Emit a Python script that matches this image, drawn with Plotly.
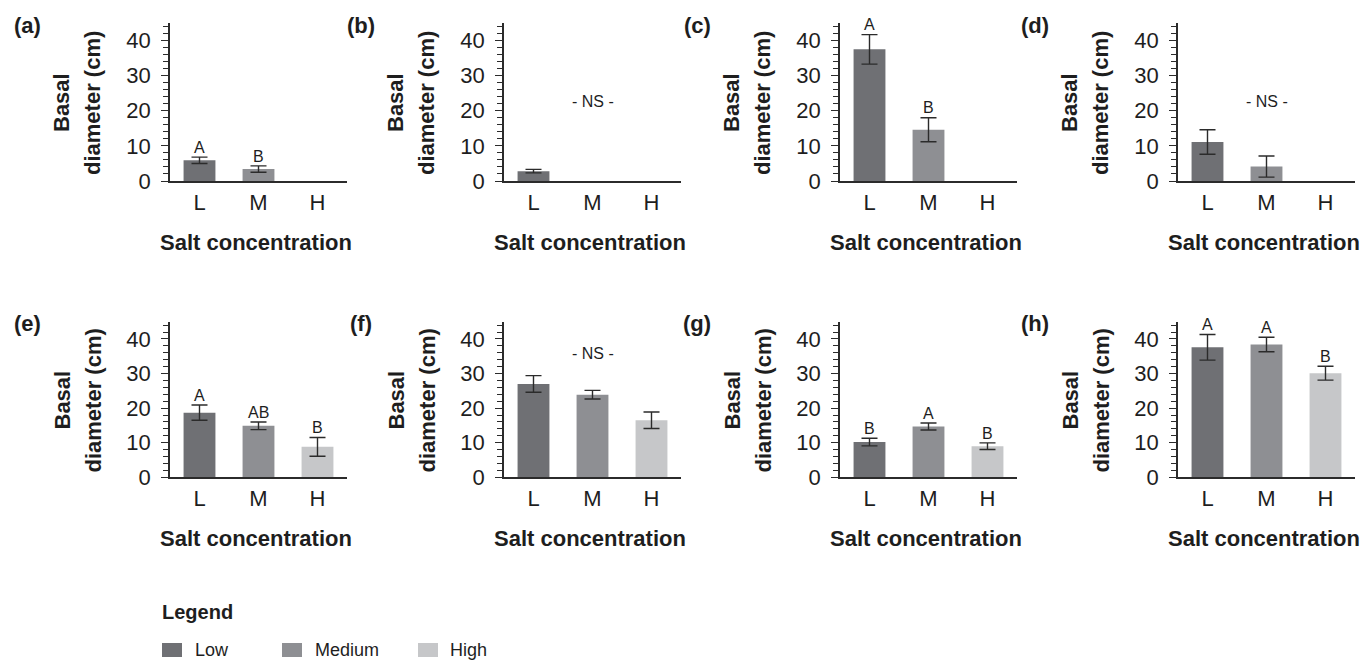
import plotly.graph_objects as go

W, H = 1366, 661

# ---------------- data ----------------
categories = ["L", "M", "H"]
level_names = ["Low", "Medium", "High"]
panel_labels = ["(a)", "(b)", "(c)", "(d)", "(e)", "(f)", "(g)", "(h)"]

means_a = [5.9, 3.4, None]
err_a = [0.9, 0.9, None]
letters_a = ["A", "B", None]

means_b = [2.8, None, None]
err_b = [0.5, None, None]
letters_b = [None, None, None]

means_c = [37.5, 14.6, None]
err_c = [4.2, 3.4, None]
letters_c = ["A", "B", None]

means_d = [11.1, 4.1, None]
err_d = [3.5, 3.0, None]
letters_d = [None, None, None]

means_e = [18.7, 14.9, 8.8]
err_e = [2.2, 1.1, 2.7]
letters_e = ["A", "AB", "B"]

means_f = [27.0, 23.9, 16.5]
err_f = [2.4, 1.25, 2.4]
letters_f = [None, None, None]

means_g = [10.2, 14.7, 9.0]
err_g = [1.1, 1.0, 0.95]
letters_g = ["B", "A", "B"]

means_h = [37.6, 38.4, 30.1]
err_h = [3.7, 2.1, 2.0]
letters_h = ["A", "A", "B"]

ns_panels = {1: 22.6, 3: 22.6, 5: 35.9}   # panels with "- NS -" and its height

all_means = [means_a, means_b, means_c, means_d, means_e, means_f, means_g, means_h]
all_errs = [err_a, err_b, err_c, err_d, err_e, err_f, err_g, err_h]
all_letters = [letters_a, letters_b, letters_c, letters_d, letters_e, letters_f, letters_g, letters_h]

# ---------------- style ----------------
level_colors = ["#6f7074", "#8e8f93", "#c6c7c9"]
axis_color = "#2b2b2b"
text_color = "#1e1e1e"
REG = "Liberation Sans, Arial, sans-serif"
BOLD = "Liberation Sans, Arial, sans-serif"

col_x0 = [170, 504, 840, 1178]
ax_w = 177
row_top = [23, 321.7]
row_bot = [181, 477.3]


def px(x):
    return x / W


def py(y):
    return 1 - y / H


fig = go.Figure()
layout = {}
annotations = []
shapes = []

for i in range(8):
    r, c = divmod(i, 4)
    n = i + 1
    xs = "x" if n == 1 else f"x{n}"
    ys = "y" if n == 1 else f"y{n}"
    xk = "xaxis" if n == 1 else f"xaxis{n}"
    yk = "yaxis" if n == 1 else f"yaxis{n}"

    fig.add_trace(go.Bar(
        x=categories, y=all_means[i],
        marker=dict(color=level_colors, line=dict(width=0)),
        width=0.54,
        error_y=dict(type="data", array=all_errs[i], color=axis_color,
                     thickness=1.4, width=8, visible=True),
        xaxis=xs, yaxis=ys, showlegend=False, hoverinfo="skip",
    ))

    x0 = col_x0[c]
    layout[xk] = dict(
        domain=[px(x0), px(x0 + ax_w)], anchor=ys,
        type="category", categoryorder="array", categoryarray=categories,
        range=[-0.5, 2.5], showline=True, linecolor=axis_color, linewidth=1.5,
        ticks="", showgrid=False, zeroline=False, fixedrange=True,
        tickfont=dict(family=REG, size=22, color=text_color),
        ticklabelstandoff=1,
    )
    layout[yk] = dict(
        domain=[py(row_bot[r]), py(row_top[r])], anchor=xs,
        range=[0, 45], tickvals=[0, 10, 20, 30, 40],
        showline=True, linecolor=axis_color, linewidth=1.5,
        ticks="outside", ticklen=7, tickwidth=1.3, tickcolor=axis_color,
        minor=dict(dtick=2, tick0=0, ticks="outside", ticklen=5, tickwidth=1,
                   tickcolor=axis_color, showgrid=False),
        showgrid=False, zeroline=False, fixedrange=True,
        tickfont=dict(family=REG, size=22, color=text_color),
        ticklabelstandoff=6,
    )

    # significance letters
    for cat, m, e, lt in zip(categories, all_means[i], all_errs[i], all_letters[i]):
        if lt and m is not None:
            annotations.append(dict(
                x=cat, y=m + e + 2.8, xref=xs, yref=ys, text=lt, showarrow=False,
                yanchor="middle", font=dict(family=REG, size=16, color=text_color)))
    if i in ns_panels:
        annotations.append(dict(
            x="M", y=ns_panels[i], xref=xs, yref=ys, text="- NS -", showarrow=False,
            yanchor="middle", font=dict(family=REG, size=16, color=text_color)))

    yc = (row_top[r] + row_bot[r]) / 2 + 1
    # y title (two lines)
    annotations.append(dict(
        x=px(x0 - 108), y=py(yc), xref="paper", yref="paper", text="<b>Basal</b>",
        textangle=-90, showarrow=False, xanchor="center", yanchor="middle",
        font=dict(family=BOLD, size=22, color=text_color)))
    annotations.append(dict(
        x=px(x0 - 77), y=py(yc), xref="paper", yref="paper", text="<b>diameter (cm)</b>",
        textangle=-90, showarrow=False, xanchor="center", yanchor="middle",
        font=dict(family=BOLD, size=22, color=text_color)))
    # x title
    annotations.append(dict(
        x=px(x0 + 86), y=py(row_bot[r] + 61), xref="paper", yref="paper",
        text="<b>Salt concentration</b>", showarrow=False, xanchor="center", yanchor="middle",
        font=dict(family=BOLD, size=22, color=text_color)))
    # panel label
    annotations.append(dict(
        x=px(x0 - 143), y=py(row_top[r] + 2), xref="paper", yref="paper",
        text=f"<b>{panel_labels[i]}</b>", showarrow=False, xanchor="center", yanchor="middle",
        font=dict(family=BOLD, size=22, color=text_color)))

# ---------------- legend ----------------
annotations.append(dict(
    x=px(160), y=py(612), xref="paper", yref="paper", text="<b>Legend</b>",
    showarrow=False, xanchor="left", yanchor="middle",
    font=dict(family=BOLD, size=20, color=text_color)))
leg_sq_x = [162, 282, 418]
leg_txt_x = [193, 313, 448]
for name, col, sx, tx in zip(level_names, level_colors, leg_sq_x, leg_txt_x):
    shapes.append(dict(type="rect", xref="paper", yref="paper",
                       x0=px(sx), x1=px(sx + 20), y0=py(657), y1=py(643),
                       fillcolor=col, line=dict(width=0)))
    annotations.append(dict(
        x=px(tx), y=py(650), xref="paper", yref="paper", text=name,
        showarrow=False, xanchor="left", yanchor="middle",
        font=dict(family=REG, size=18, color=text_color)))

fig.update_layout(
    autosize=True,
    margin=dict(l=0, r=0, t=0, b=0, autoexpand=False),
    paper_bgcolor="white", plot_bgcolor="white",
    annotations=annotations, shapes=shapes,
    bargap=0.46,
    **layout,
)

fig.write_html(
    "out.html",
    config={"displayModeBar": False, "responsive": True},
    default_width="100vw",
    default_height="100vh",
    post_script=(
        "document.documentElement.style.margin='0';"
        "document.documentElement.style.overflow='hidden';"
        "document.body.style.margin='0';document.body.style.padding='0';"
        "document.body.style.overflow='hidden';"
        "var d=document.getElementById('{plot_id}');"
        "d.style.position='fixed';d.style.left='0px';d.style.top='0px';"
        "d.style.width='100vw';d.style.height='100vh';"
        "Plotly.Plots.resize(d);"
    ),
)
